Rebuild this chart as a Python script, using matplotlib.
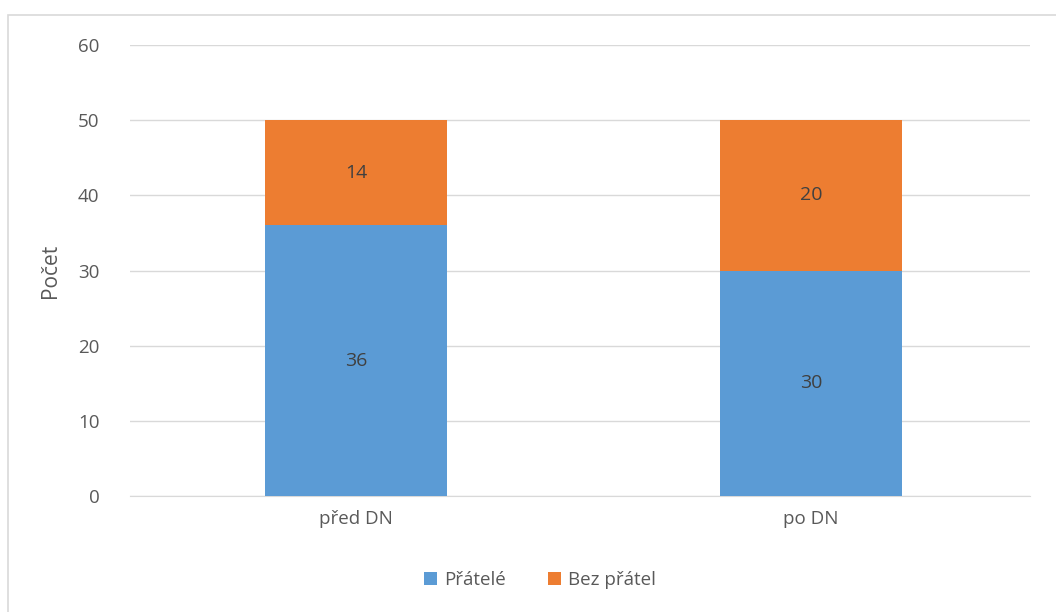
import matplotlib.pyplot as plt
from matplotlib.patches import Rectangle

# Data
categories = ['před DN', 'po DN']
pratele = [36, 30]
bez_pratel = [14, 20]

plt.rcParams['font.family'] = ['Open Sans', 'DejaVu Sans']
text_col = '#595959'

fig = plt.figure(figsize=(10.56, 6.12), dpi=100)
ax = fig.add_axes([130 / 1056, 1 - 496 / 612, 900 / 1056, 451 / 612])

# light frame around the chart area
fig.patches.append(Rectangle((8 / 1056, -0.1), 1.2, 1 - 15 / 612 + 0.1,
                             transform=fig.transFigure, fill=False,
                             edgecolor='#d9d9d9', linewidth=1.2))

x = range(len(categories))
b1 = ax.bar(x, pratele, width=0.4, color='#5b9bd5', label='Přátelé', zorder=3)
b2 = ax.bar(x, bez_pratel, width=0.4, bottom=pratele, color='#ed7d31',
            label='Bez přátel', zorder=3)
ax.bar_label(b1, label_type='center', color='#404040', fontsize=14)
ax.bar_label(b2, label_type='center', color='#404040', fontsize=14)

ax.set_xlim(-0.4967, 1.481)
ax.set_ylim(0, 60)
ax.set_yticks(range(0, 61, 10))
ax.set_xticks(list(x))
ax.set_xticklabels(categories)
ax.grid(axis='y', color='#d9d9d9', linewidth=1, zorder=0)
for s in ['top', 'right', 'left']:
    ax.spines[s].set_visible(False)
ax.spines['bottom'].set_color('#d9d9d9')
ax.tick_params(axis='both', length=0, labelsize=13.5, colors=text_col, pad=10)
ax.tick_params(axis='y', pad=22)
ax.set_ylabel('Počet', fontsize=15, color=text_col, labelpad=12)

fig.legend(loc='center', bbox_to_anchor=(540 / 1056, 1 - 580 / 612), ncol=2,
           frameon=False, fontsize=13.5, labelcolor=text_col, handlelength=0.7,
           handleheight=0.7, columnspacing=2.2, handletextpad=0.4)

fig.savefig('out.png', dpi=100)
